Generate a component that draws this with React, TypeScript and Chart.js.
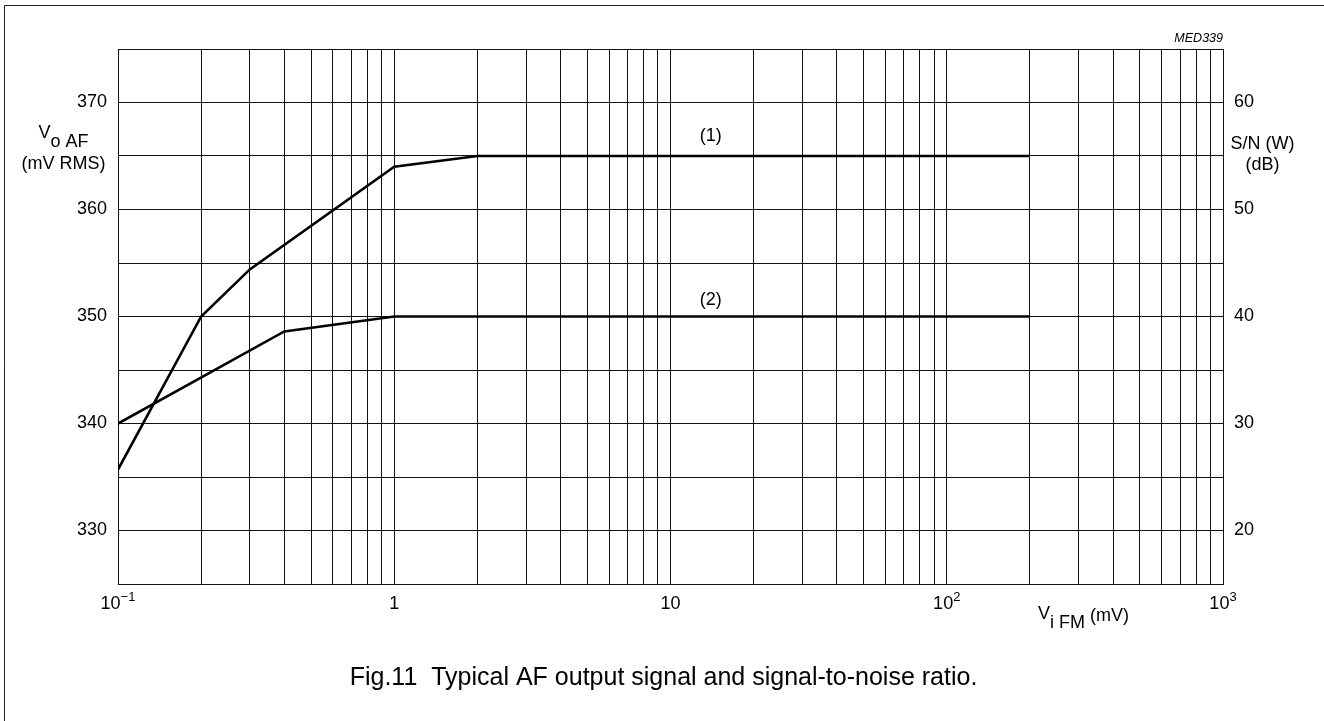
import React, { useEffect, useRef } from "react";
import { Chart, registerables } from "chart.js";

Chart.register(...registerables);

const FONT = '"Liberation Sans", Arial, Helvetica, sans-serif';

// Curve (1) and (2): V_i FM (mV) vs V_o AF (mV RMS)
const curve1X = [0.1, 0.2, 0.3, 1, 2, 200];
const curve1Y = [335.7, 350, 354.4, 364, 365, 365];
const curve2X = [0.1, 0.4, 1, 200];
const curve2Y = [340, 348.6, 350, 350];

// Log grid positions (mV)
const xGridValues = [
  0.1, 0.2, 0.3, 0.4, 0.5, 0.6, 0.7, 0.8, 0.9,
  1, 2, 3, 4, 5, 6, 7, 8, 9,
  10, 20, 30, 40, 50, 60, 70, 80, 90,
  100, 200, 300, 400, 500, 600, 700, 800, 900,
  1000,
];

// X tick labels (decades)
const xTickValues = [0.1, 1, 10, 100, 1000];
const xTickBase = ["10", "1", "10", "10", "10"];
const xTickExp = ["\u22121", "", "", "2", "3"];

// Y tick labels
const yLeftTicks = [330, 340, 350, 360, 370];
const yRightTicks = [20, 30, 40, 50, 60];

// Curve annotations
const curveLabels = ["(1)", "(2)"];
const curveLabelX = [14, 14];
const curveLabelY = [366.4, 351.1];

const caption = "Fig.11  Typical AF output signal and signal-to-noise ratio.";
const figCode = "MED339";

const textPlugin = {
  id: "figureTexts",
  afterDraw(chart: any) {
    const ctx = chart.ctx as CanvasRenderingContext2D;
    const xs = chart.scales.x;
    const ys = chart.scales.y;
    const ys2 = chart.scales.y2;
    ctx.save();

    // outer frame (top and left edges)
    ctx.strokeStyle = "#222";
    ctx.lineWidth = 1;
    ctx.beginPath();
    ctx.moveTo(4.5, 721);
    ctx.lineTo(4.5, 5.5);
    ctx.lineTo(1324, 5.5);
    ctx.stroke();

    ctx.fillStyle = "#000";

    // Y tick labels
    ctx.font = `18px ${FONT}`;
    ctx.textBaseline = "middle";
    ctx.textAlign = "right";
    yLeftTicks.forEach((v) => ctx.fillText(String(v), 107, ys.getPixelForValue(v)));
    ctx.textAlign = "left";
    yRightTicks.forEach((v) => ctx.fillText(String(v), 1234, ys2.getPixelForValue(v)));

    // X tick labels with superscripts
    ctx.textBaseline = "alphabetic";
    ctx.textAlign = "left";
    xTickValues.forEach((v, i) => {
      const px = xs.getPixelForValue(v);
      ctx.font = `18px ${FONT}`;
      const wb = ctx.measureText(xTickBase[i]).width;
      ctx.font = `13px ${FONT}`;
      const we = xTickExp[i] ? ctx.measureText(xTickExp[i]).width : 0;
      const start = px - (wb + we) / 2;
      ctx.font = `18px ${FONT}`;
      ctx.fillText(xTickBase[i], start, 609);
      if (we) {
        ctx.font = `13px ${FONT}`;
        ctx.fillText(xTickExp[i], start + wb, 601);
      }
    });

    // Left axis title: V_o AF / (mV RMS)
    ctx.font = `18px ${FONT}`;
    const wV = ctx.measureText("V").width;
    const wSub = ctx.measureText("o AF").width;
    const lcx = 63.5;
    const lstart = lcx - (wV + wSub) / 2;
    ctx.fillText("V", lstart, 138);
    ctx.fillText("o AF", lstart + wV, 146.5);
    ctx.textAlign = "center";
    ctx.fillText("(mV RMS)", lcx, 169);

    // Right axis title
    ctx.fillText("S/N (W)", 1262.5, 149);
    ctx.fillText("(dB)", 1262.5, 170);

    // X axis title: V_i FM (mV)
    ctx.textAlign = "left";
    let xx = 1038;
    ctx.fillText("V", xx, 619);
    xx += ctx.measureText("V").width;
    ctx.fillText("i FM", xx, 627.5);
    xx += ctx.measureText("i FM").width;
    ctx.fillText(" (mV)", xx, 621);

    // Curve labels
    ctx.textAlign = "center";
    curveLabels.forEach((t, i) => {
      ctx.fillText(t, xs.getPixelForValue(curveLabelX[i]), ys.getPixelForValue(curveLabelY[i]));
    });

    // Figure code
    ctx.font = `italic 12.5px ${FONT}`;
    ctx.textAlign = "right";
    ctx.fillText(figCode, 1223, 42);

    // Caption
    ctx.font = `25px ${FONT}`;
    ctx.textAlign = "center";
    ctx.fillText(caption, 663.5, 685);

    ctx.restore();
  },
};

export default function App() {
  const canvasRef = useRef<HTMLCanvasElement | null>(null);

  useEffect(() => {
    if (!canvasRef.current) return;
    const gridColor = "#111";
    const chart = new Chart(canvasRef.current, {
      type: "line",
      data: {
        datasets: [
          {
            label: "(1)",
            data: curve1X.map((x, i) => ({ x, y: curve1Y[i] })),
            borderColor: "#000",
            borderWidth: 2.6,
            pointRadius: 0,
            tension: 0,
            fill: false,
            yAxisID: "y",
          },
          {
            label: "(2)",
            data: curve2X.map((x, i) => ({ x, y: curve2Y[i] })),
            borderColor: "#000",
            borderWidth: 2.6,
            pointRadius: 0,
            tension: 0,
            fill: false,
            yAxisID: "y",
          },
        ],
      },
      options: {
        animation: false,
        responsive: true,
        maintainAspectRatio: false,
        events: [],
        layout: { padding: { top: 49, left: 0, right: 0, bottom: 0 } },
        plugins: {
          legend: { display: false },
          tooltip: { enabled: false },
          title: { display: false },
        },
        scales: {
          x: {
            type: "logarithmic",
            position: "bottom",
            min: 0.1,
            max: 1000,
            afterBuildTicks: (scale: any) => {
              scale.ticks = xGridValues.map((v) => ({ value: v }));
            },
            afterFit: (scale: any) => {
              scale.height = 137;
            },
            ticks: { display: false },
            grid: { color: gridColor, lineWidth: 1, drawTicks: false },
            border: { display: true, color: gridColor, width: 1 },
          },
          y: {
            type: "linear",
            position: "left",
            min: 325,
            max: 375,
            ticks: { display: false, stepSize: 5 },
            afterFit: (scale: any) => {
              scale.width = 118;
            },
            grid: { color: gridColor, lineWidth: 1, drawTicks: false },
            border: { display: true, color: gridColor, width: 1 },
          },
          y2: {
            type: "linear",
            position: "right",
            min: 15,
            max: 65,
            ticks: { display: false, stepSize: 5 },
            afterFit: (scale: any) => {
              scale.width = 101;
            },
            grid: { display: false, drawTicks: false },
            border: { display: true, color: gridColor, width: 1 },
          },
        },
      },
      plugins: [textPlugin],
    } as any);
    return () => chart.destroy();
  }, []);

  return (
    <div
      style={{
        position: "fixed",
        left: 0,
        top: 0,
        width: 1324,
        height: 721,
        background: "#fff",
      }}
    >
      <canvas ref={canvasRef} />
    </div>
  );
}
